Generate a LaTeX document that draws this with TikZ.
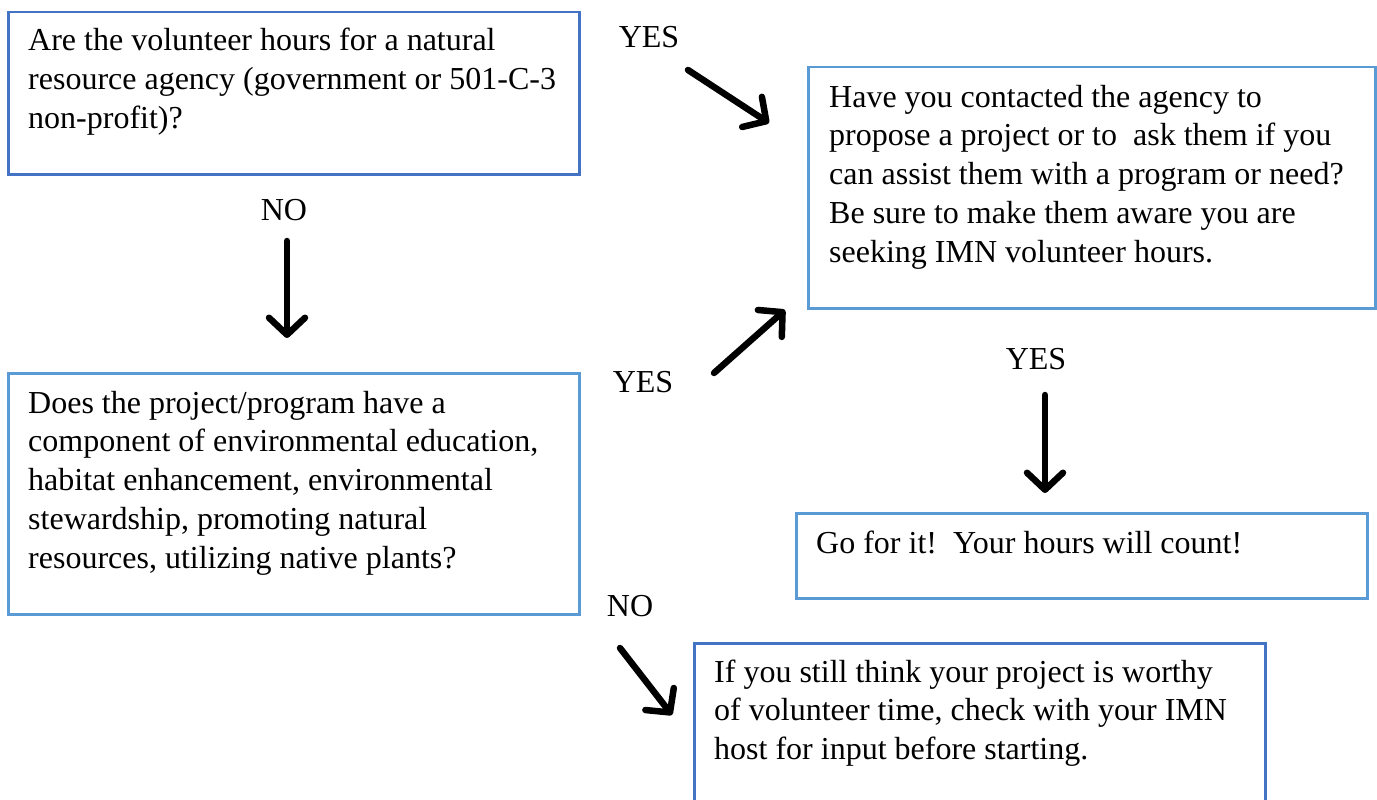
\documentclass[tikz,border=0pt]{standalone}
\usepackage{fontspec}
\setmainfont{Liberation Serif}
\usetikzlibrary{arrows.meta}
\definecolor{boxdark}{HTML}{4472C4}
\definecolor{boxlight}{HTML}{5B9BD5}
\begin{document}
\begin{tikzpicture}[x=1pt,y=-1pt,
  boxd/.style={draw=boxdark,line width=2.5pt,rectangle,inner sep=0pt,anchor=north west,minimum width=571pt},
  boxl/.style={draw=boxlight,line width=2.5pt,rectangle,inner sep=0pt,anchor=north west,minimum width=571pt},
  txt/.style={inner sep=0pt,anchor=base west,font=\fontsize{32}{38.8}\selectfont},
  lbl/.style={inner sep=0pt,anchor=base,font=\fontsize{32}{38.8}\selectfont},
  arr/.style={line width=6.5pt,line cap=round,-{Straight Barb[length=17pt,width=36pt,round]}}
]
\useasboundingbox[fill=white] (0,0) rectangle (1377,800);

% boxes
\node[boxd,minimum height=162pt] (q1) at (7,11) {};
\node[boxl,minimum height=241pt,minimum width=567pt] (q2) at (807,66) {};
\node[boxl,minimum height=241pt] (q3) at (7,372) {};
\node[boxl,minimum height=85pt] (go) at (795,512) {};
\node[boxd,minimum height=170pt] (host) at (693,642) {};

% texts
\node[txt] (q1t) at (28,51) {\parbox[t]{545pt}{Are the volunteer hours for a natural\\resource agency (government or 501-C-3\\non-profit)?}};
\node[txt] (q2t) at (829,107) {\parbox[t]{545pt}{Have you contacted the agency to\\propose a project or to\ \ ask them if you\\can assist them with a program or need?\\Be sure to make them aware you are\\seeking IMN volunteer hours.}};
\node[txt] (q3t) at (28,413) {\parbox[t]{545pt}{Does the project/program have a\\component of environmental education,\\habitat enhancement, environmental\\stewardship, promoting natural\\resources, utilizing native plants?}};
\node[txt] (got) at (816,553) {Go for it!\ \ Your hours will count!};
\node[txt] (hostt) at (714,682) {\parbox[t]{545pt}{If you still think your project is worthy\\of volunteer time, check with your IMN\\host for input before starting.}};

% labels
\node[lbl] (yes1) at (649,48) {YES};
\node[lbl] (no1) at (284,220) {NO};
\node[lbl] (yes2) at (643,392) {YES};
\node[lbl] (yes3) at (1036,369) {YES};
\node[lbl] (no2) at (630,616) {NO};

% arrow end points
\coordinate (s1) at (688,70);   \coordinate (e1) at (769,123);
\coordinate (s2) at (287,241);  \coordinate (e2) at (287,338);
\coordinate (s3) at (714,373);  \coordinate (e3) at (785,310);
\coordinate (s4) at (1045,395); \coordinate (e4) at (1045,493);
\coordinate (s5) at (620,648);  \coordinate (e5) at (672,715);

\draw[arr] (s1) -- (e1);
\draw[arr] (s2) -- (e2);
\draw[arr] (s3) -- (e3);
\draw[arr] (s4) -- (e4);
\draw[arr] (s5) -- (e5);
\end{tikzpicture}
\end{document}
